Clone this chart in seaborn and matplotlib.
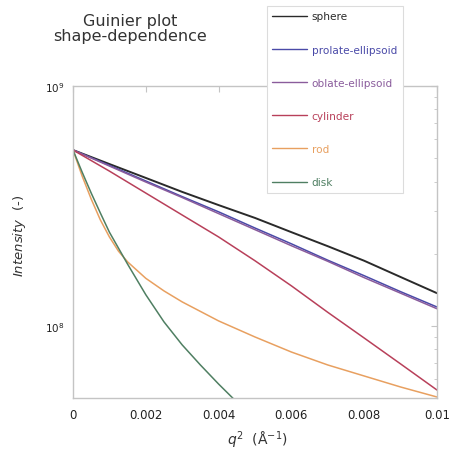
import numpy as np
import pandas as pd
import matplotlib
matplotlib.use("Agg")
import matplotlib.pyplot as plt
import seaborn as sns

# q^2 grids (1/A^2)
q2_main = [0.0, 0.001, 0.002, 0.003, 0.004, 0.005, 0.006, 0.007, 0.008, 0.009, 0.01]
q2_rod = [0.0, 0.00025, 0.0005, 0.00075, 0.001, 0.00125, 0.0015, 0.002, 0.0025,
          0.003, 0.004, 0.005, 0.006, 0.007, 0.008, 0.009, 0.01]
q2_disk = [0.0, 0.00025, 0.0005, 0.00075, 0.001, 0.00125, 0.0015, 0.002, 0.0025,
           0.003, 0.0035, 0.004, 0.0045]

# intensities (x 1e8)
sphere = [5.41, 4.73, 4.14, 3.62, 3.19, 2.82, 2.46, 2.15, 1.87, 1.60, 1.37]
prolate = [5.41, 4.67, 4.02, 3.46, 2.99, 2.56, 2.20, 1.88, 1.62, 1.39, 1.20]
oblate = [5.41, 4.64, 3.98, 3.43, 2.94, 2.52, 2.16, 1.86, 1.59, 1.37, 1.18]
cylinder = [5.41, 4.42, 3.58, 2.90, 2.35, 1.87, 1.47, 1.14, 0.891, 0.695, 0.541]
rod = [5.41, 4.22, 3.38, 2.77, 2.35, 2.05, 1.85, 1.58, 1.40, 1.26, 1.05, 0.900,
       0.779, 0.688, 0.619, 0.557, 0.506]
disk = [5.41, 4.38, 3.58, 2.96, 2.46, 2.11, 1.81, 1.35, 1.04, 0.834, 0.688, 0.573, 0.482]

names = ["sphere", "prolate-ellipsoid", "oblate-ellipsoid", "cylinder", "rod", "disk"]
colors = ["#2a2a2a", "#4a4aa8", "#8a5c9c", "#b8405a", "#e8a060", "#4f7f62"]
series = [(q2_main, sphere), (q2_main, prolate), (q2_main, oblate),
          (q2_main, cylinder), (q2_rod, rod), (q2_disk, disk)]

frames = []
for name, (x, y) in zip(names, series):
    frames.append(pd.DataFrame({"q2": x, "I": np.array(y) * 1e8, "shape": name}))
df = pd.concat(frames, ignore_index=True)

sns.set_style("white")
plt.rcParams["font.family"] = ["DejaVu Sans"]
plt.rcParams["mathtext.fontset"] = "dejavusans"

fig = plt.figure(figsize=(4.5, 4.52), dpi=100)
ax = fig.add_axes([73 / 450, 1 - 399 / 452, 364 / 450, 312 / 452])

for name, c in zip(names, colors):
    lw = 1.4 if name == "sphere" else 1.1
    sns.lineplot(data=df[df["shape"] == name], x="q2", y="I", color=c,
                 linewidth=lw, label=name, ax=ax, sort=False)

ax.set_yscale("log")
ax.set_xlim(0, 0.01)
ax.set_ylim(10 ** 7.7, 1e9)
ax.set_xticks([0, 0.002, 0.004, 0.006, 0.008, 0.01],
              ["0", "0.002", "0.004", "0.006", "0.008", "0.01"])
ax.set_xlabel("")
ax.set_ylabel("")

gray = "#c4c4c4"
for s in ax.spines.values():
    s.set_color(gray)
    s.set_linewidth(1.0)
ax.tick_params(which="both", direction="in", top=True, right=True, color=gray,
               labelcolor="#222222")
ax.tick_params(which="major", length=4, width=0.8)
ax.tick_params(which="minor", length=2.5, width=0.6)
ax.tick_params(axis="x", labelsize=8.5, pad=7)
ax.tick_params(axis="y", labelsize=7.5, pad=6)

leg = ax.legend(loc="upper left", bbox_to_anchor=(267 / 450, 1 - 7 / 452),
                bbox_transform=fig.transFigure, borderaxespad=0,
                fontsize=7.6, labelspacing=2.2, handlelength=3.3,
                handletextpad=0.45, borderpad=0.5, frameon=True,
                fancybox=False, framealpha=1, edgecolor="#dcdcdc",
                labelcolor="linecolor")
leg.get_frame().set_linewidth(0.8)
leg.set_zorder(10)
for h in leg.get_lines():
    h.set_linewidth(1.0)

fig.text(130 / 450, 1 - 29 / 452, "Guinier plot\nshape-dependence", ha="center",
         va="center", fontsize=11.5, linespacing=1.0, color="#333333")
fig.text(20 / 450, 1 - 236 / 452, r"$\mathit{Intensity}$  (-)", rotation=90,
         ha="center", va="center", fontsize=9.5, color="#333333")
fig.text(257 / 450, 1 - 440 / 452, r"$q^2$  (Å$^{-1}$)", ha="center",
         va="center", fontsize=10, color="#333333")

fig.savefig("out.png", dpi=100, facecolor="white")
